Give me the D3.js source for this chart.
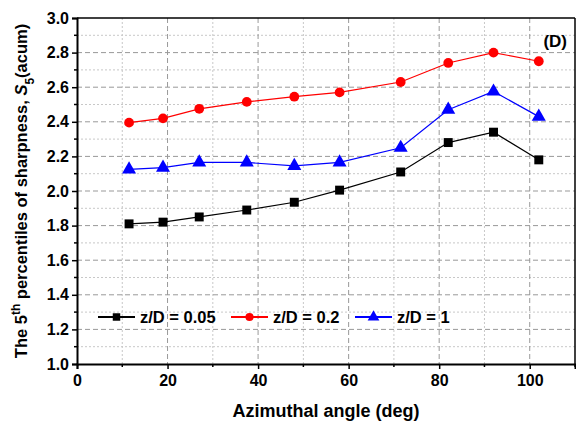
<!DOCTYPE html>
<html>
<head>
<meta charset="utf-8">
<script src="https://cdn.jsdelivr.net/npm/d3@7"></script>
<style>
  body { margin: 0; background: #fff; }
  text { font-family: "Liberation Sans", Arial, sans-serif; font-weight: bold; }
</style>
</head>
<body>
<script>
// data
var angles = [11.5, 19, 27, 37.5, 48, 58, 71.5, 82, 92, 102];      // azimuthal angle (deg)
var zd005 = [1.81, 1.82, 1.85, 1.89, 1.935, 2.005, 2.11, 2.28, 2.34, 2.18];  // z/D = 0.05
var zd02  = [2.395, 2.42, 2.475, 2.515, 2.545, 2.57, 2.63, 2.74, 2.80, 2.75]; // z/D = 0.2
var zd1   = [2.125, 2.135, 2.165, 2.165, 2.145, 2.165, 2.25, 2.47, 2.575, 2.43]; // z/D = 1
var seriesNames = ["z/D = 0.05", "z/D = 0.2", "z/D = 1"];
var xTicks = [0, 20, 40, 60, 80, 100];
var yTicks = [1.0, 1.2, 1.4, 1.6, 1.8, 2.0, 2.2, 2.4, 2.6, 2.8, 3.0];

var width = 576, height = 424;
var margin = {top: 18, right: 1, bottom: 60, left: 77};
var w = width - margin.left - margin.right;   // plot width
var h = height - margin.top - margin.bottom;  // plot height

var svg = d3.select("body").append("svg").attr("width", width).attr("height", height);
var g = svg.append("g").attr("transform", "translate(" + margin.left + "," + margin.top + ")");

var x = d3.scaleLinear().domain([0, 110]).range([0, w]);
var y = d3.scaleLinear().domain([1.0, 3.0]).range([h, 0]);

// minor grid (dotted, light)
g.selectAll(".vminor").data(d3.range(10, 110, 20)).enter().append("line")
  .attr("x1", d => x(d)).attr("x2", d => x(d)).attr("y1", 0).attr("y2", h)
  .attr("stroke", "#c8c8c8").attr("stroke-width", 1).attr("stroke-dasharray", "2,2");
g.selectAll(".hminor").data(d3.range(1.1, 3.0, 0.2)).enter().append("line")
  .attr("x1", 0).attr("x2", w).attr("y1", d => y(d)).attr("y2", d => y(d))
  .attr("stroke", "#c8c8c8").attr("stroke-width", 1).attr("stroke-dasharray", "2,2");

// major grid (dashed)
g.selectAll(".vmajor").data(xTicks.slice(1)).enter().append("line")
  .attr("x1", d => x(d)).attr("x2", d => x(d)).attr("y1", 0).attr("y2", h)
  .attr("stroke", "#999").attr("stroke-width", 1).attr("stroke-dasharray", "5,3");
g.selectAll(".hmajor").data(yTicks.slice(1, -1)).enter().append("line")
  .attr("x1", 0).attr("x2", w).attr("y1", d => y(d)).attr("y2", d => y(d))
  .attr("stroke", "#999").attr("stroke-width", 1).attr("stroke-dasharray", "5,3");

// top and right frame
g.append("line").attr("x1", 0).attr("x2", w).attr("y1", 0).attr("y2", 0).attr("stroke", "#000").attr("stroke-width", 1.5);
g.append("line").attr("x1", w).attr("x2", w).attr("y1", 0).attr("y2", h).attr("stroke", "#000").attr("stroke-width", 1.5);

// axes
var xAxis = d3.axisBottom(x).tickValues(xTicks).tickFormat(d3.format("d")).tickSize(5).tickPadding(6);
var yAxis = d3.axisLeft(y).tickValues(yTicks).tickFormat(d3.format(".1f")).tickSize(5).tickPadding(3);

var gx = g.append("g").attr("transform", "translate(0," + h + ")").call(xAxis);
var gy = g.append("g").call(yAxis);
[gx, gy].forEach(function(a) {
  a.select(".domain").attr("stroke-width", 2);
  a.selectAll(".tick line").attr("stroke-width", 1.5);
  a.selectAll("text").attr("font-size", 16).attr("fill", "#000");
});
// minor ticks
g.selectAll(".xmin").data(d3.range(10, 111, 20)).enter().append("line")
  .attr("x1", d => x(d)).attr("x2", d => x(d)).attr("y1", h).attr("y2", h + 3)
  .attr("stroke", "#000").attr("stroke-width", 1.5);
g.selectAll(".ymin").data(d3.range(1.1, 3.0, 0.2)).enter().append("line")
  .attr("x1", -3).attr("x2", 0).attr("y1", d => y(d)).attr("y2", d => y(d))
  .attr("stroke", "#000").attr("stroke-width", 1.5);

// axis titles
svg.append("text").attr("x", margin.left + w / 2).attr("y", 417).attr("text-anchor", "middle")
  .attr("font-size", 18).text("Azimuthal angle (deg)");

var yt = svg.append("text").attr("transform", "translate(27," + (margin.top + h / 2) + ") rotate(-90)")
  .attr("text-anchor", "middle").attr("font-size", 16.5);
yt.append("tspan").text("The 5");
yt.append("tspan").attr("baseline-shift", "super").attr("font-size", 12).text("th");
yt.append("tspan").text(" percentiles of sharpness, ");
yt.append("tspan").attr("font-style", "italic").text("S");
yt.append("tspan").attr("baseline-shift", "sub").attr("font-size", 12).text("5");
yt.append("tspan").text("(acum)");

// panel label
svg.append("text").attr("x", 567).attr("y", 47).attr("text-anchor", "end").attr("font-size", 17).text("(D)");

// series
var series = [
  {name: seriesNames[0], values: zd005, color: "#000000", shape: d3.symbolSquare, size: 80},
  {name: seriesNames[1], values: zd02, color: "#ff0000", shape: d3.symbolCircle, size: 75},
  {name: seriesNames[2], values: zd1, color: "#0000ff", shape: d3.symbolTriangle, size: 85}
];

var line = d3.line().x(d => x(d[0])).y(d => y(d[1]));

series.forEach(function(s) {
  var pts = angles.map(function(a, i) { return [a, s.values[i]]; });
  g.append("path").datum(pts).attr("d", line).attr("fill", "none")
    .attr("stroke", s.color).attr("stroke-width", 1.2);
  g.selectAll(null).data(pts).enter().append("path")
    .attr("d", d3.symbol().type(s.shape).size(s.size))
    .attr("transform", d => "translate(" + x(d[0]) + "," + y(d[1]) + ")")
    .attr("fill", s.color);
});

// legend
var legendX = [98, 231, 355];
series.forEach(function(s, i) {
  var lg = svg.append("g").attr("transform", "translate(" + legendX[i] + ",317)");
  lg.append("line").attr("x1", 0).attr("x2", 37).attr("y1", 0).attr("y2", 0)
    .attr("stroke", s.color).attr("stroke-width", 2);
  lg.append("path").attr("d", d3.symbol().type(s.shape).size(s.size * 0.7))
    .attr("transform", "translate(18.5,0)").attr("fill", s.color);
  lg.append("text").attr("x", 42).attr("y", 6).attr("font-size", 16.5).text(s.name);
});
</script>
</body>
</html>
